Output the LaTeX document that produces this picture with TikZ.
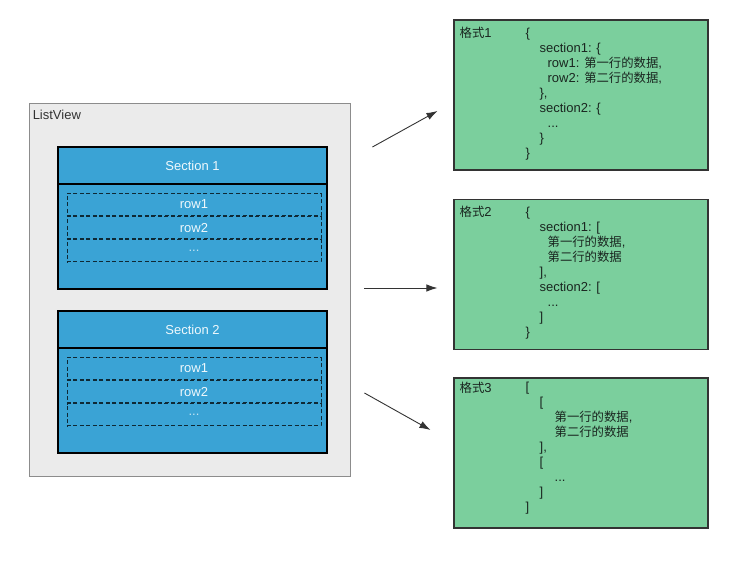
\documentclass[tikz,border=0pt]{standalone}
\usepackage{fontspec}
\setmainfont{Liberation Sans}
\newfontfamily\zhfont[Scale=0.95]{Noto Sans CJK SC}
\usetikzlibrary{matrix}
\usetikzlibrary{calc}
\usetikzlibrary{arrows.meta}
\newcommand{\zh}[1]{{\zhfont #1}}
\definecolor{secblue}{HTML}{3AA3D5}
\definecolor{fmtgreen}{HTML}{7BCF9D}
\definecolor{lvgray}{HTML}{EBEBEB}
\definecolor{codetext}{HTML}{1A2620}

\begin{document}
\begin{tikzpicture}[x=1pt, y=-1pt, font=\fontsize{13}{15}\selectfont,
    secbox/.style={draw=black, line width=1.4pt, fill=secblue, minimum width=269, minimum height=142},
    head/.style={draw=black, line width=1.4pt, minimum width=269, minimum height=37, text=white!92!secblue},
    fmtbox/.style={draw=black!80, line width=1.1pt, fill=fmtgreen, minimum width=254, minimum height=150},
    code/.style={align=left, anchor=north west, inner sep=0pt, text=codetext},
    flow/.style={-{Latex[length=11pt,width=7.5pt]}, draw=black!80, line width=0.9pt}]
  \useasboundingbox (0,0) rectangle (755,561);

  % the list view
  \node[draw=black!45, line width=0.9pt, fill=lvgray, minimum width=321, minimum height=373] (listview) at (189.5,289.5) {};
  \node[anchor=west, inner sep=0pt, text=black!80] (lvlabel) at ($(listview.north west)+(4,12)$) {ListView};

  \node[secbox] (sec1) at (192.5,218) {};
  \node[head, anchor=north] (head1) at (sec1.north) {Section 1};
  \matrix (rows1) [matrix of nodes, nodes={draw=black!75!secblue, dashed, dash pattern=on 4pt off 2.5pt, line width=0.8pt,
    minimum width=254, minimum height=22.3, anchor=center, text=white!92!secblue},
    row sep=0pt, inner sep=0pt, anchor=north] at ($(head1.south)+(1.5,8)$)
  {
  row1 \\
  row2 \\
  |[text=white!70!secblue]| ... \\
  };

  \node[secbox] (sec2) at (192.5,382) {};
  \node[head, anchor=north] (head2) at (sec2.north) {Section 2};
  \matrix (rows2) [matrix of nodes, nodes={draw=black!75!secblue, dashed, dash pattern=on 4pt off 2.5pt, line width=0.8pt,
    minimum width=254, minimum height=22.3, anchor=center, text=white!92!secblue},
    row sep=0pt, inner sep=0pt, anchor=north] at ($(head2.south)+(1.5,8)$)
  {
  row1 \\
  row2 \\
  |[text=white!70!secblue]| ... \\
  };

  % the three formats
  \node[fmtbox] (fmt1) at (581,95) {};
  \node[anchor=west, inner sep=0pt, text=codetext] (lab1) at ($(fmt1.north west)+(6,13)$) {\zh{格式}1};
  \node[code] (code1) at ($(fmt1.north west)+(72,8.5)$) {%
    \{\\
    \hspace*{14pt}section1: \{\\
    \hspace*{22pt}row1: \zh{第一行的数据},\\
    \hspace*{22pt}row2: \zh{第二行的数据},\\
    \hspace*{14pt}\},\\
    \hspace*{14pt}section2: \{\\
    \hspace*{22pt}...\\
    \hspace*{14pt}\}\\
    \}};

  \node[fmtbox] (fmt2) at (581,274.5) {};
  \node[anchor=west, inner sep=0pt, text=codetext] (lab2) at ($(fmt2.north west)+(6,12.5)$) {\zh{格式}2};
  \node[code] (code2) at ($(fmt2.north west)+(72,7.5)$) {%
    \{\\
    \hspace*{14pt}section1: [\\
    \hspace*{22pt}\zh{第一行的数据},\\
    \hspace*{22pt}\zh{第二行的数据}\\
    \hspace*{14pt}],\\
    \hspace*{14pt}section2: [\\
    \hspace*{22pt}...\\
    \hspace*{14pt}]\\
    \}};

  \node[fmtbox] (fmt3) at (581,453) {};
  \node[anchor=west, inner sep=0pt, text=codetext] (lab3) at ($(fmt3.north west)+(6,10)$) {\zh{格式}3};
  \node[code] (code3) at ($(fmt3.north west)+(72,4.5)$) {%
    [\\
    \hspace*{14pt}[\\
    \hspace*{29pt}\zh{第一行的数据},\\
    \hspace*{29pt}\zh{第二行的数据}\\
    \hspace*{14pt}],\\
    \hspace*{14pt}[\\
    \hspace*{29pt}...\\
    \hspace*{14pt}]\\
    ]};

  % arrows
  \draw[flow] ($(listview.east)+(22,-142.5)$) -- ($(fmt1.west)+(-16,16)$);
  \draw[flow] ($(listview.east)+(14,-1.5)$) -- ($(fmt2.west)+(-16,13.5)$);
  \draw[flow] ($(listview.east)+(14,103.5)$) -- ($(fmt3.west)+(-23,-23)$);
\end{tikzpicture}
\end{document}
